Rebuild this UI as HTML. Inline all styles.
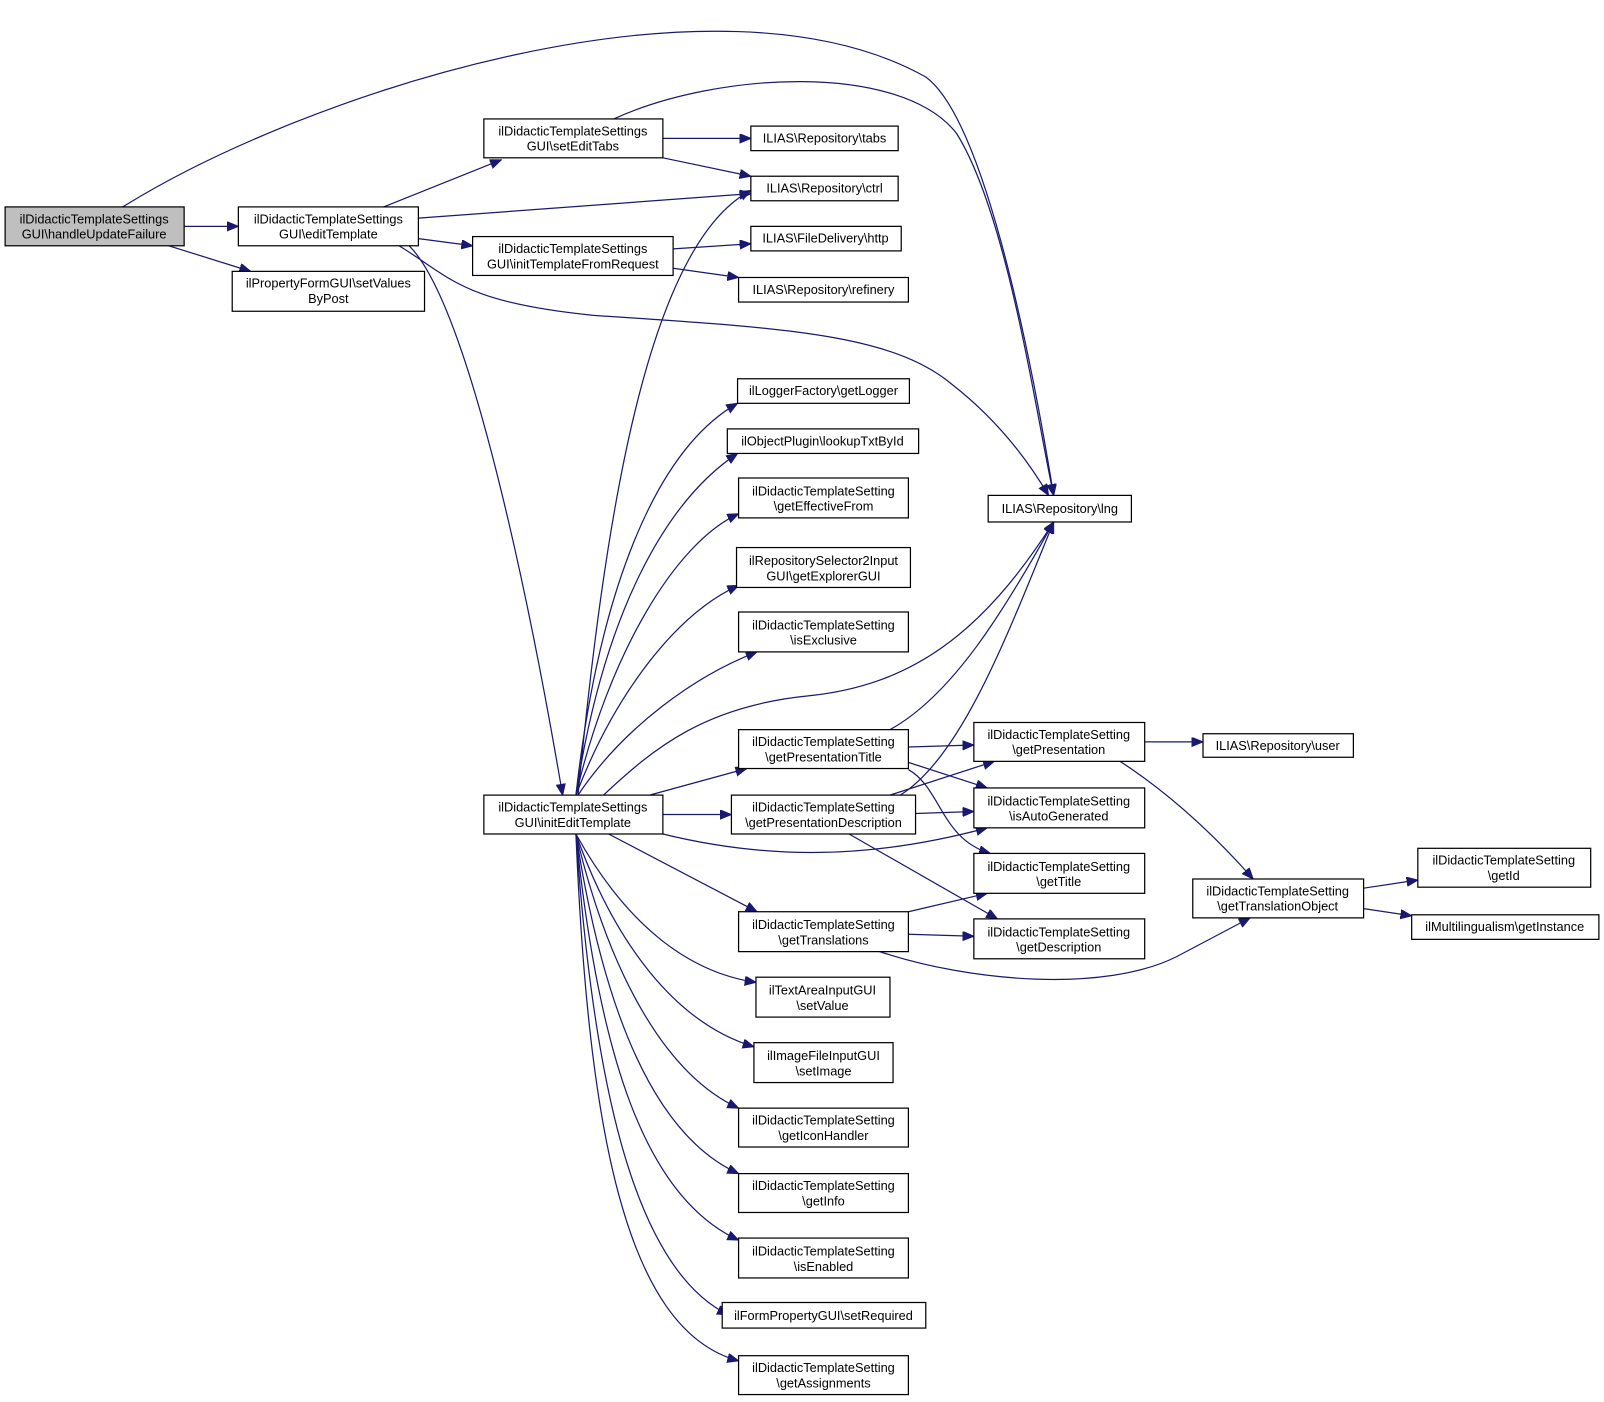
<!DOCTYPE html>
<html><head><meta charset="utf-8"><style>
html,body{margin:0;padding:0;background:#fff;}
svg{display:block;}
text{font-family:"Liberation Sans",sans-serif;font-size:12.5px;fill:#000;text-anchor:middle;}
.n{fill:#fff;stroke:#000;stroke-width:1.2;}
.e{fill:none;stroke:#191970;stroke-width:1.2;marker-end:url(#a);}
</style></head><body>
<svg width="1604" height="1402" viewBox="0 0 1568 1370" xmlns="http://www.w3.org/2000/svg">
<defs><marker id="a" markerUnits="userSpaceOnUse" markerWidth="12" markerHeight="10" refX="11" refY="4.5" orient="auto"><path d="M0,0 L11,4.5 L0,9 Z" fill="#191970" stroke="#191970"/></marker></defs>
<g>
<path class="e" d="M180,221 L233,221"/>
<path class="e" d="M165,240 L245,265"/>
<path class="e" d="M120,202 C300,90 700,-40 905,75 C960,115 1005,330 1030,484"/>
<path class="e" d="M375,202 L490,156"/>
<path class="e" d="M409,213 L734,189"/>
<path class="e" d="M409,233 L462,240"/>
<path class="e" d="M390,240 C440,270 450,295 580,308 C760,320 870,325 930,375 C975,410 1005,450 1025,484"/>
<path class="e" d="M400,240 C460,300 520,600 550,777"/>
<path class="e" d="M648,135 L734,135"/>
<path class="e" d="M648,154 L734,172"/>
<path class="e" d="M600,116 C700,70 880,60 935,130 C985,210 1012,400 1030,484"/>
<path class="e" d="M658,243 L734,238"/>
<path class="e" d="M658,262 L722,271"/>
<path class="e" d="M565,777 C590,520 630,240 734,186"/>
<path class="e" d="M563,777 C585,580 640,440 721,394"/>
<path class="e" d="M563,777 C590,600 650,490 721,443"/>
<path class="e" d="M563,777 C595,640 660,530 722,502"/>
<path class="e" d="M563,777 C600,680 660,600 722,572"/>
<path class="e" d="M565,777 C610,710 680,660 740,637"/>
<path class="e" d="M590,777 C640,730 690,690 790,680 C890,670 960,620 1030,510"/>
<path class="e" d="M635,777 L730,751"/>
<path class="e" d="M648,796 L715,796"/>
<path class="e" d="M648,815 C750,840 850,840 965,809"/>
<path class="e" d="M595,815 L740,891"/>
<path class="e" d="M563,815 C610,900 670,950 739,960"/>
<path class="e" d="M563,815 C600,920 660,1000 737,1023"/>
<path class="e" d="M563,815 C595,950 650,1050 722,1083"/>
<path class="e" d="M563,815 C590,990 640,1110 722,1147"/>
<path class="e" d="M563,815 C585,1030 630,1170 722,1212"/>
<path class="e" d="M563,815 C580,1060 620,1240 712,1285"/>
<path class="e" d="M563,815 C575,1100 610,1300 722,1330"/>
<path class="e" d="M888,730 L952,728"/>
<path class="e" d="M888,745 L965,770"/>
<path class="e" d="M888,752 C920,770 920,820 968,834"/>
<path class="e" d="M870,713 C930,680 980,600 1030,510"/>
<path class="e" d="M870,777 L972,744"/>
<path class="e" d="M895,795 L952,793"/>
<path class="e" d="M830,815 L975,898"/>
<path class="e" d="M880,777 C940,740 985,620 1030,510"/>
<path class="e" d="M1119,725 L1176,725"/>
<path class="e" d="M1095,744 C1150,780 1195,825 1225,859"/>
<path class="e" d="M888,891 L965,873"/>
<path class="e" d="M888,913 L952,915"/>
<path class="e" d="M860,930 C950,960 1080,970 1150,935 L1222,897"/>
<path class="e" d="M1333,868 L1386,860"/>
<path class="e" d="M1333,888 L1380,895"/>
</g>
<g>
<rect x="5" y="202" width="175" height="38" style="fill:#bfbfbf;stroke:#000;stroke-width:1.2"/><text x="92" y="218">ilDidacticTemplateSettings</text><text x="92" y="233">GUI\handleUpdateFailure</text>
<rect class="n" x="233" y="202" width="176" height="38"/><text x="321" y="218">ilDidacticTemplateSettings</text><text x="321" y="233">GUI\editTemplate</text>
<rect class="n" x="227" y="265" width="188" height="39"/><text x="321" y="281">ilPropertyFormGUI\setValues</text><text x="321" y="296">ByPost</text>
<rect class="n" x="473" y="116" width="175" height="38"/><text x="560" y="132">ilDidacticTemplateSettings</text><text x="560" y="147">GUI\setEditTabs</text>
<rect class="n" x="734" y="123" width="144" height="24"/><text x="806" y="139">ILIAS\Repository\tabs</text>
<rect class="n" x="734" y="172" width="144" height="24"/><text x="806" y="188">ILIAS\Repository\ctrl</text>
<rect class="n" x="462" y="231" width="196" height="38"/><text x="560" y="247">ilDidacticTemplateSettings</text><text x="560" y="262">GUI\initTemplateFromRequest</text>
<rect class="n" x="734" y="221" width="147" height="24"/><text x="807" y="237">ILIAS\FileDelivery\http</text>
<rect class="n" x="722" y="271" width="166" height="24"/><text x="805" y="287">ILIAS\Repository\refinery</text>
<rect class="n" x="966" y="484" width="140" height="26"/><text x="1036" y="501">ILIAS\Repository\lng</text>
<rect class="n" x="721" y="370" width="168" height="24"/><text x="805" y="386">ilLoggerFactory\getLogger</text>
<rect class="n" x="711" y="419" width="187" height="24"/><text x="804" y="435">ilObjectPlugin\lookupTxtById</text>
<rect class="n" x="722" y="467" width="166" height="39"/><text x="805" y="484">ilDidacticTemplateSetting</text><text x="805" y="499">\getEffectiveFrom</text>
<rect class="n" x="720" y="535" width="170" height="39"/><text x="805" y="552">ilRepositorySelector2Input</text><text x="805" y="567">GUI\getExplorerGUI</text>
<rect class="n" x="722" y="598" width="166" height="39"/><text x="805" y="615">ilDidacticTemplateSetting</text><text x="805" y="630">\isExclusive</text>
<rect class="n" x="722" y="713" width="166" height="38"/><text x="805" y="729">ilDidacticTemplateSetting</text><text x="805" y="744">\getPresentationTitle</text>
<rect class="n" x="473" y="777" width="175" height="38"/><text x="560" y="793">ilDidacticTemplateSettings</text><text x="560" y="808">GUI\initEditTemplate</text>
<rect class="n" x="715" y="777" width="180" height="38"/><text x="805" y="793">ilDidacticTemplateSetting</text><text x="805" y="808">\getPresentationDescription</text>
<rect class="n" x="952" y="706" width="167" height="38"/><text x="1035" y="722">ilDidacticTemplateSetting</text><text x="1035" y="737">\getPresentation</text>
<rect class="n" x="1176" y="717" width="147" height="23"/><text x="1249" y="733">ILIAS\Repository\user</text>
<rect class="n" x="952" y="770" width="167" height="39"/><text x="1035" y="787">ilDidacticTemplateSetting</text><text x="1035" y="802">\isAutoGenerated</text>
<rect class="n" x="952" y="834" width="167" height="39"/><text x="1035" y="851">ilDidacticTemplateSetting</text><text x="1035" y="866">\getTitle</text>
<rect class="n" x="722" y="891" width="166" height="39"/><text x="805" y="908">ilDidacticTemplateSetting</text><text x="805" y="923">\getTranslations</text>
<rect class="n" x="952" y="898" width="167" height="39"/><text x="1035" y="915">ilDidacticTemplateSetting</text><text x="1035" y="930">\getDescription</text>
<rect class="n" x="1166" y="859" width="167" height="38"/><text x="1249" y="875">ilDidacticTemplateSetting</text><text x="1249" y="890">\getTranslationObject</text>
<rect class="n" x="1386" y="829" width="169" height="38"/><text x="1470" y="845">ilDidacticTemplateSetting</text><text x="1470" y="860">\getId</text>
<rect class="n" x="1380" y="894" width="183" height="24"/><text x="1471" y="910">ilMultilingualism\getInstance</text>
<rect class="n" x="739" y="955" width="131" height="39"/><text x="804" y="972">ilTextAreaInputGUI</text><text x="804" y="987">\setValue</text>
<rect class="n" x="737" y="1019" width="136" height="39"/><text x="805" y="1036">ilImageFileInputGUI</text><text x="805" y="1051">\setImage</text>
<rect class="n" x="722" y="1083" width="166" height="38"/><text x="805" y="1099">ilDidacticTemplateSetting</text><text x="805" y="1114">\getIconHandler</text>
<rect class="n" x="722" y="1147" width="166" height="38"/><text x="805" y="1163">ilDidacticTemplateSetting</text><text x="805" y="1178">\getInfo</text>
<rect class="n" x="722" y="1210" width="166" height="39"/><text x="805" y="1227">ilDidacticTemplateSetting</text><text x="805" y="1242">\isEnabled</text>
<rect class="n" x="706" y="1273" width="199" height="25"/><text x="805" y="1290">ilFormPropertyGUI\setRequired</text>
<rect class="n" x="722" y="1325" width="166" height="38"/><text x="805" y="1341">ilDidacticTemplateSetting</text><text x="805" y="1356">\getAssignments</text>
</g>
</svg>
</body></html>
